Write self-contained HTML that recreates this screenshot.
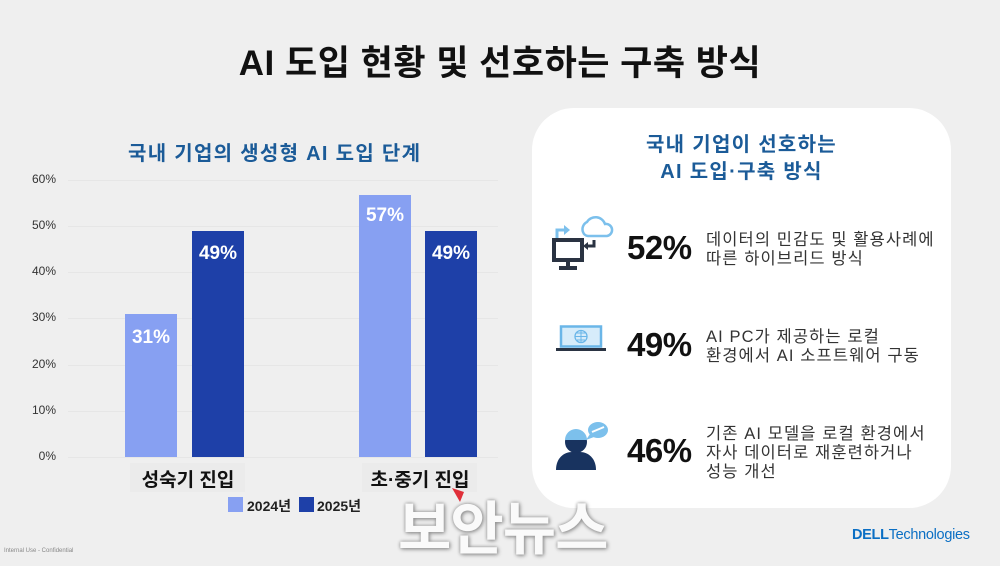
<!DOCTYPE html>
<html><head><meta charset="utf-8">
<style>
*{margin:0;padding:0;box-sizing:border-box}
body{width:1000px;height:562px;background:#efefef;position:relative;overflow:hidden;font-family:"Liberation Sans","Noto Sans CJK KR",sans-serif}
.a{position:absolute;white-space:nowrap}
.t{font-weight:bold}
.yl{position:absolute;left:20px;width:36px;text-align:right;font-size:12px;color:#333}
.grid{position:absolute;left:68px;width:430px;height:1px;background:#e6e6e6}
.bar{position:absolute}
.lt{background:#87a0f2}
.dk{background:#1e40a8}
.v{position:absolute;width:52px;text-align:center;color:#fff;font-weight:bold;font-size:19px}
.pct{position:absolute;left:627px;font-weight:bold;font-size:33px;color:#111;letter-spacing:-0.5px}
.desc{position:absolute;left:706px;font-size:16.5px;line-height:19px;color:#333;white-space:nowrap;letter-spacing:1.1px}
</style></head><body>

<div class="a t" style="left:0;width:1000px;text-align:center;top:35px;font-size:35px;color:#111;letter-spacing:0.5px">AI 도입 현황 및 선호하는 구축 방식</div>

<div class="a t" style="left:128px;top:137px;font-size:20px;color:#1b5b98;letter-spacing:1.3px">국내 기업의 생성형 AI 도입 단계</div>

<div class="grid" style="top:180px"></div>
<div class="grid" style="top:226px"></div>
<div class="grid" style="top:272px"></div>
<div class="grid" style="top:318px"></div>
<div class="grid" style="top:365px"></div>
<div class="grid" style="top:411px"></div>
<div class="grid" style="top:457px"></div>

<div class="yl" style="top:172px">60%</div>
<div class="yl" style="top:218px">50%</div>
<div class="yl" style="top:264px">40%</div>
<div class="yl" style="top:310px">30%</div>
<div class="yl" style="top:357px">20%</div>
<div class="yl" style="top:403px">10%</div>
<div class="yl" style="top:449px">0%</div>

<div class="bar lt" style="left:125px;top:314px;width:52px;height:143px"></div>
<div class="bar dk" style="left:192px;top:231px;width:52px;height:226px"></div>
<div class="bar lt" style="left:359px;top:195px;width:52px;height:262px"></div>
<div class="bar dk" style="left:425px;top:231px;width:52px;height:226px"></div>

<div class="v" style="left:125px;top:327px">31%</div>
<div class="v" style="left:192px;top:243px">49%</div>
<div class="v" style="left:359px;top:205px">57%</div>
<div class="v" style="left:425px;top:243px">49%</div>

<div class="a" style="left:130px;top:463px;width:115px;height:29px;background:#ebebeb"></div>
<div class="a" style="left:362px;top:463px;width:115px;height:29px;background:#ebebeb"></div>
<div class="a t" style="left:128px;width:120px;text-align:center;top:465px;font-size:19px;color:#111">성숙기 진입</div>
<div class="a t" style="left:358px;width:124px;text-align:center;top:465px;font-size:19px;color:#111">초·중기 진입</div>

<div class="a" style="left:228px;top:497px;width:15px;height:15px;background:#87a0f2"></div>
<div class="a t" style="left:247px;top:496px;font-size:14px;color:#222">2024년</div>
<div class="a" style="left:299px;top:497px;width:15px;height:15px;background:#1e40a8"></div>
<div class="a t" style="left:317px;top:496px;font-size:14px;color:#222">2025년</div>

<!-- right panel -->
<div class="a" style="left:532px;top:108px;width:419px;height:400px;background:#fff;border-radius:42px"></div>
<div class="a t" style="left:532px;width:419px;text-align:center;top:132px;font-size:20px;line-height:27px;color:#1b5b98;letter-spacing:1.3px">국내 기업이 선호하는<br>AI 도입·구축 방식</div>

<!-- icon 1 -->
<svg class="a" style="left:550px;top:210px" width="64" height="64" viewBox="0 0 64 64">
  <path d="M33 22 a8 8 0 0 1 4-10 a10 10 0 0 1 18 2 a6 6 0 0 1 2 12 H38 a6 6 0 0 1 -5-4z" fill="none" stroke="#7cc0ec" stroke-width="2.5"/>
  <path d="M7 28 V20 h8" fill="none" stroke="#7cc0ec" stroke-width="3"/>
  <path d="M14 15 l6 5 l-6 5z" fill="#7cc0ec"/>
  <rect x="4" y="30" width="28" height="20" fill="none" stroke="#2a3342" stroke-width="4"/>
  <rect x="16" y="50" width="4" height="6" fill="#2a3342"/>
  <rect x="9" y="56" width="18" height="4" fill="#2a3342"/>
  <path d="M44 30 v6 h-7" fill="none" stroke="#2a3342" stroke-width="3"/>
  <path d="M38 32 l-5 4 l5 4z" fill="#2a3342"/>
</svg>
<!-- icon 2 laptop -->
<svg class="a" style="left:555px;top:325px" width="52" height="28" viewBox="0 0 52 28">
  <rect x="6" y="1.5" width="40" height="20" fill="#d6ecfa" stroke="#6ab6e8" stroke-width="2.5"/>
  <circle cx="26" cy="11.5" r="6" fill="none" stroke="#6ab6e8" stroke-width="1.3"/>
  <path d="M20 11.5h12M26 5.5v12M22 8h8M22 15h8" stroke="#6ab6e8" stroke-width="1"/>
  <rect x="1" y="23" width="50" height="3" fill="#2a3342"/>
</svg>
<!-- icon 3 person -->
<svg class="a" style="left:554px;top:420px" width="56" height="52" viewBox="0 0 56 52">
  <path d="M2 50 c0-12 8-18 16-18 h8 c8 0 16 6 16 18z" fill="#18335f"/>
  <circle cx="22" cy="22" r="11" fill="#18335f"/>
  <path d="M11 20 a11 11 0 0 1 22 0z" fill="#7cc0ec"/>
  <ellipse cx="44" cy="10" rx="10" ry="8" fill="#7cc0ec"/>
  <path d="M36 14 l-4 6 l8-3z" fill="#7cc0ec"/>
  <path d="M38 12 l12-5" stroke="#fff" stroke-width="2"/>
</svg>

<div class="pct" style="top:229px">52%</div>
<div class="pct" style="top:326px">49%</div>
<div class="pct" style="top:432px">46%</div>

<div class="desc" style="top:231px">데이터의 민감도 및 활용사례에<br>따른 하이브리드 방식</div>
<div class="desc" style="top:328px">AI PC가 제공하는 로컬<br>환경에서 AI 소프트웨어 구동</div>
<div class="desc" style="top:425px">기존 AI 모델을 로컬 환경에서<br>자사 데이터로 재훈련하거나<br>성능 개선</div>

<!-- watermark -->
<div class="a t" style="left:398px;top:482px;font-size:58px;color:#fafafa;letter-spacing:-1px;text-shadow:0 0 3px #999,1px 1px 4px #888">보안뉴스</div>
<svg class="a" style="left:450px;top:486px" width="16" height="18" viewBox="0 0 16 18"><path d="M2 2 L14 6 L10 16z" fill="#e0303a"/></svg>

<div class="a t" style="left:852px;top:527px;font-size:14.5px;color:#0b6fc4;letter-spacing:-0.3px">DELL<span style="font-weight:normal">Technologies</span></div>
<div class="a" style="left:4px;top:548px;font-size:6px;color:#888">Internal Use - Confidential</div>
</body></html>
